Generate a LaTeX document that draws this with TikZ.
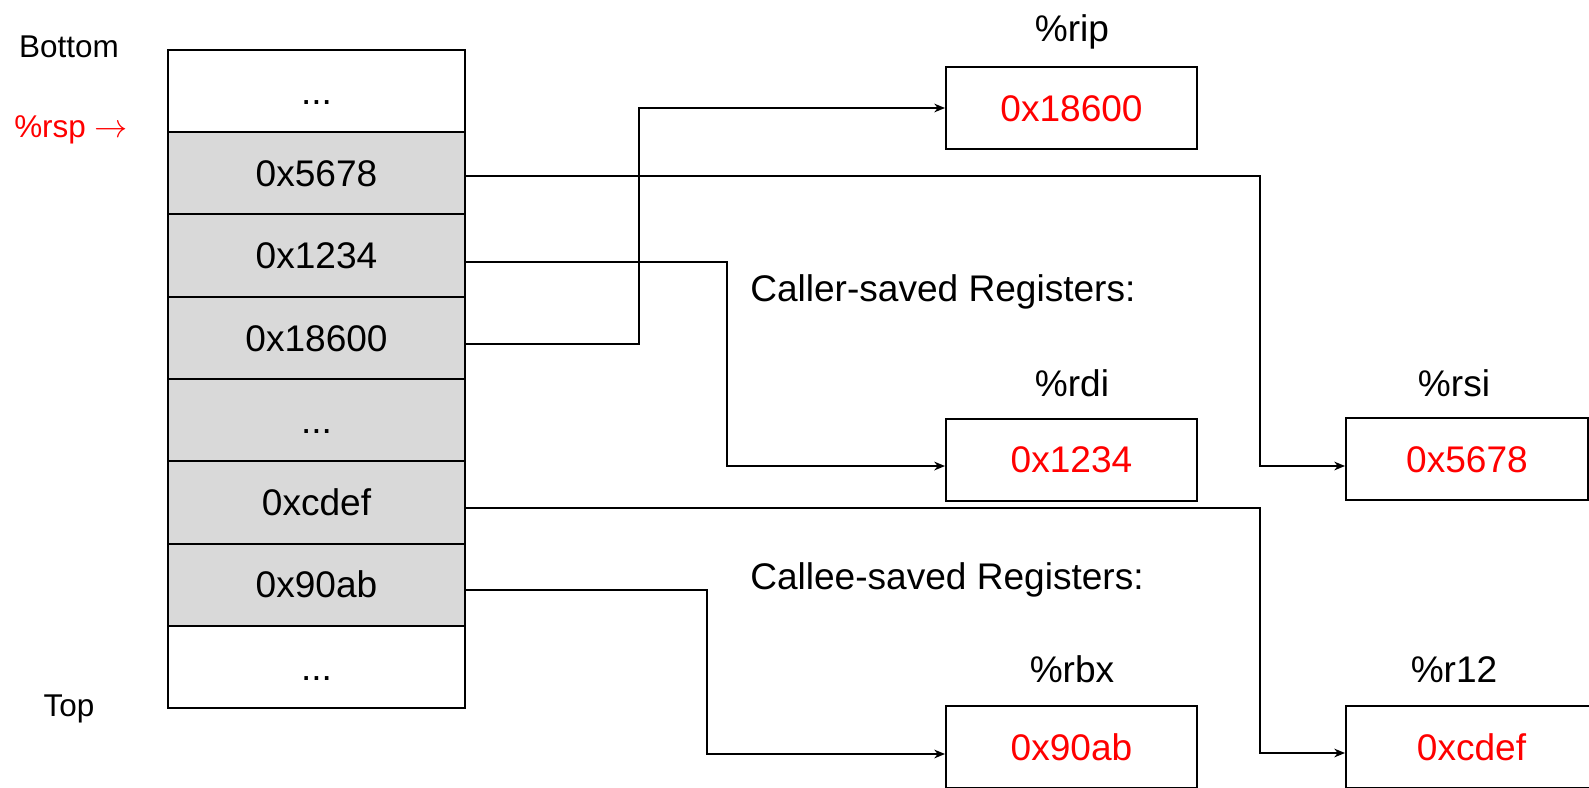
\documentclass[tikz,border=0pt]{standalone}
\usepackage{fontspec}
\setmainfont{Liberation Sans}
\usetikzlibrary{arrows.meta}
\definecolor{cellgray}{HTML}{D9D9D9}
\begin{document}
\begin{tikzpicture}[x=0.75pt,y=-0.75pt,
  big/.style={font=\fontsize{27.8pt}{33pt}\selectfont},
  small/.style={font=\fontsize{23.6pt}{28pt}\selectfont},
  cell/.style={draw, line width=1.5pt, minimum width=222.75pt, minimum height=61.69pt, inner sep=0pt, big, text height=19.9pt, text depth=0pt},
  gcell/.style={cell, fill=cellgray},
  reg/.style={draw, line width=1.5pt, minimum width=188.25pt, minimum height=61.5pt, inner sep=0pt, big, text=red, text height=19.9pt, text depth=0pt},
  lbl/.style={big, anchor=base, inner sep=0pt},
  sl/.style={small, inner sep=0pt},
  conn/.style={line width=1.5pt, -{Stealth[length=8pt,width=6.5pt,inset=2.5pt]}}
]
\useasboundingbox (0,0) rectangle (1589,788);
\clip (0,0) rectangle (1589,788);

% stack
\node[cell]  (r0) at (316.5, 91.125) {...};
\node[gcell] (r1) at (316.5,173.375) {0x5678};
\node[gcell] (r2) at (316.5,255.625) {0x1234};
\node[gcell] (r3) at (316.5,337.875) {0x18600};
\node[gcell] (r4) at (316.5,420.125) {...};
\node[gcell] (r5) at (316.5,502.375) {0xcdef};
\node[gcell] (r6) at (316.5,584.625) {0x90ab};
\node[cell]  (r7) at (316.5,666.875) {...};

% side labels
\node[sl, anchor=base] (bottom) at (69,57.5) {Bottom};
\node[sl, anchor=base west, text=red] (rsp) at (14,138) {\%rsp $\rightarrow$};
\node[sl, anchor=base] (top) at (69,716) {Top};

% registers
\node[lbl] (lrip) at (1072,41.6) {\%rip};
\node[reg] (rip) at (1071.5,108) {0x18600};
\node[lbl, anchor=base west] (caller) at (750,301) {Caller-saved Registers:};
\node[lbl] (lrdi) at (1072,396) {\%rdi};
\node[reg] (rdi) at (1071.5,459.5) {0x1234};
\node[lbl] (lrsi) at (1454,396) {\%rsi};
\node[reg, minimum width=181.5pt] (rsi) at (1467,459) {0x5678};
\node[lbl, anchor=base west] (callee) at (750,589) {Callee-saved Registers:};
\node[lbl] (lrbx) at (1072,682) {\%rbx};
\node[reg] (rbx) at (1071.5,747) {0x90ab};
\node[lbl] (lr12) at (1454,682) {\%r12};
\node[reg] (r12) at (1471.5,747) {0xcdef};

% bend columns
\coordinate (k1) at (1259.5,0);
\coordinate (k2) at (727,0);
\coordinate (k3) at (639,0);
\coordinate (k5) at (1260,0);
\coordinate (k6) at (707,0);

% arrival points
\coordinate (ripin) at (rip.west);
\coordinate (rdiin) at ([yshift=-4.9pt]rdi.west);
\coordinate (rsiin) at ([yshift=-5.25pt]rsi.west);
\coordinate (rbxin) at ([yshift=-5.25pt]rbx.west);
\coordinate (r12in) at ([yshift=-4.5pt]r12.west);

% connectors
\draw[conn] ([yshift=-4.6pt]r3.east) -| (k3 |- ripin) -- (ripin);
\draw[conn] ([yshift=-4.8pt]r2.east) -| (k2 |- rdiin) -- (rdiin);
\draw[conn] ([yshift=-1.95pt]r1.east) -| (k1 |- rsiin) -- (rsiin);
\draw[conn] ([yshift=-4.2pt]r5.east) -| (k5 |- r12in) -- (r12in);
\draw[conn] ([yshift=-4.05pt]r6.east) -| (k6 |- rbxin) -- (rbxin);
\end{tikzpicture}
\end{document}
